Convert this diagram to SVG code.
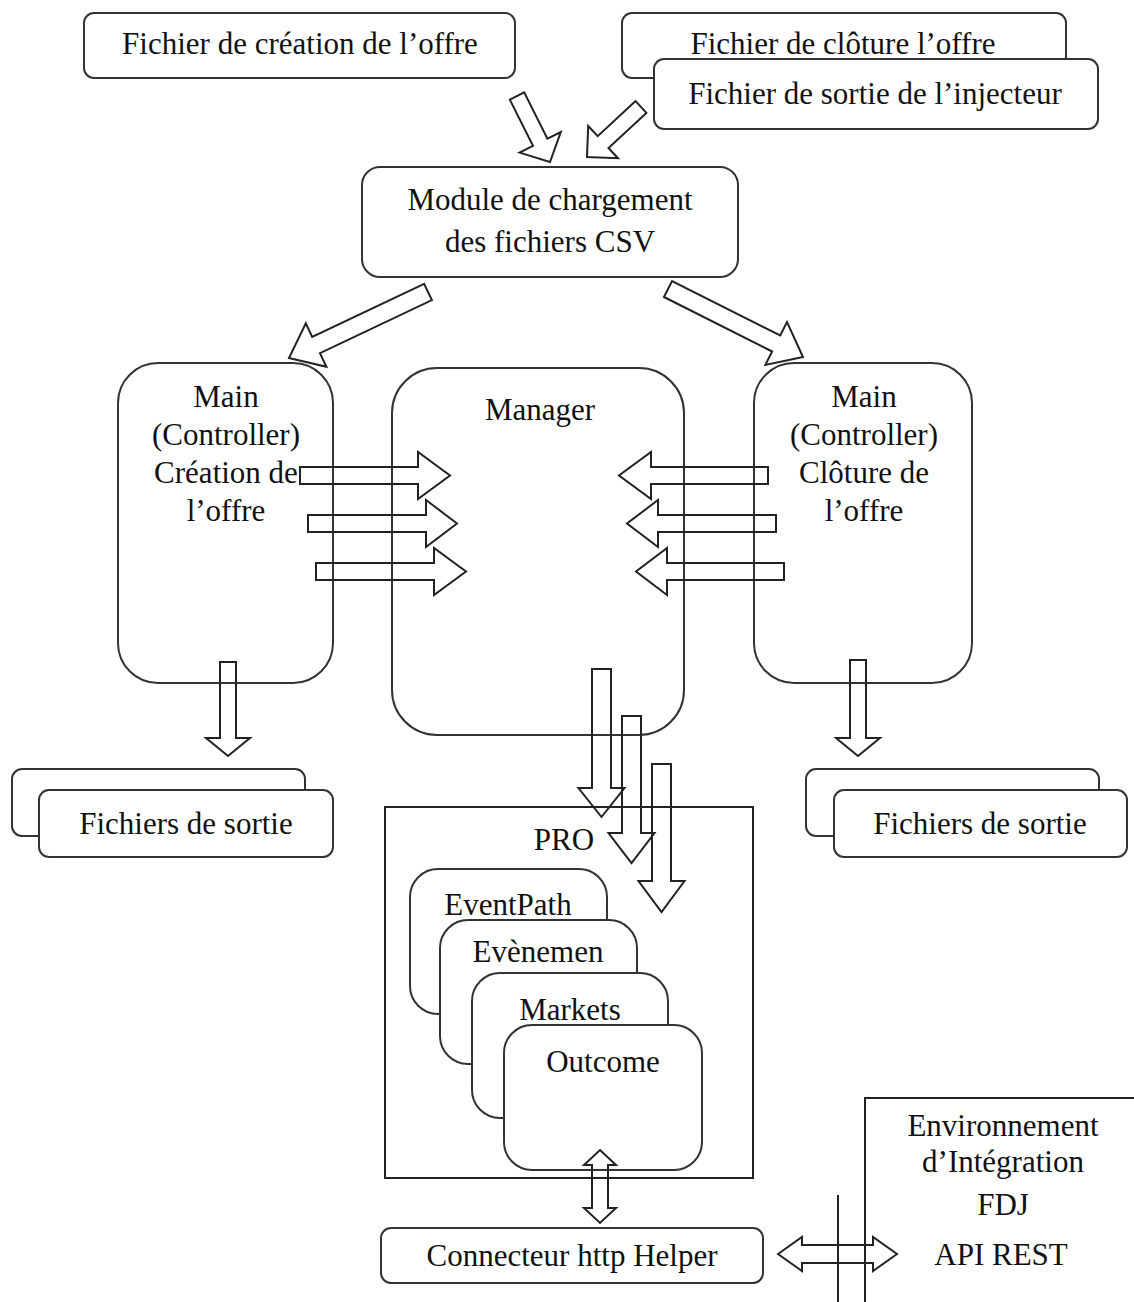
<svg xmlns="http://www.w3.org/2000/svg" width="1134" height="1302" viewBox="0 0 1134 1302">
<style>
.box{fill:#fff;stroke:#333;stroke-width:2}
.arr{fill:none;stroke:#222;stroke-width:2;stroke-linejoin:miter}
.t{font-family:"Liberation Serif","Times New Roman",serif;font-size:31px;fill:#111;text-anchor:middle}
</style>
<rect x="0" y="0" width="1134" height="1302" fill="#fff"/>

<g id="fichier-creation">
<rect class="box" x="84" y="13" width="431" height="65" rx="10"/>
<text class="t" x="300" y="54">Fichier de création de l’offre</text>
</g>
<g id="fichier-cloture">
<rect class="box" x="622" y="13" width="444" height="65" rx="10"/>
<text class="t" x="843" y="54">Fichier de clôture l’offre</text>
</g>
<g id="fichier-injecteur">
<rect class="box" x="654" y="59" width="444" height="70" rx="10"/>
<text class="t" x="875" y="104">Fichier de sortie de l’injecteur</text>
</g>
<g id="module-csv">
<rect class="box" x="362" y="167" width="376" height="110" rx="18"/>
<text class="t" x="550" y="210">Module de chargement</text>
<text class="t" x="550" y="252">des fichiers CSV</text>
</g>
<g id="main-creation">
<rect class="box" x="118" y="363" width="215" height="320" rx="40"/>
<text class="t" x="226" y="407">Main</text>
<text class="t" x="226" y="445">(Controller)</text>
<text class="t" x="226" y="483">Création de</text>
<text class="t" x="226" y="521">l’offre</text>
</g>
<g id="manager">
<rect class="box" x="392" y="368" width="292" height="367" rx="45"/>
<text class="t" x="540" y="420">Manager</text>
</g>
<g id="main-cloture">
<rect class="box" x="754" y="363" width="218" height="320" rx="40"/>
<text class="t" x="864" y="407">Main</text>
<text class="t" x="864" y="445">(Controller)</text>
<text class="t" x="864" y="483">Clôture de</text>
<text class="t" x="864" y="521">l’offre</text>
</g>
<g id="sortie-gauche">
<rect class="box" x="12" y="769" width="293" height="67" rx="10"/>
<rect class="box" x="39" y="790" width="294" height="67" rx="10"/>
<text class="t" x="186" y="834">Fichiers de sortie</text>
</g>
<g id="sortie-droite">
<rect class="box" x="806" y="769" width="293" height="67" rx="10"/>
<rect class="box" x="834" y="790" width="293" height="67" rx="10"/>
<text class="t" x="980" y="834">Fichiers de sortie</text>
</g>
<g id="pro">
<rect x="385" y="807" width="368" height="371" fill="#fff" stroke="#222" stroke-width="2"/>
<text class="t" x="564" y="850">PRO</text>
</g>
<g id="eventpath">
<rect class="box" x="410" y="869" width="197" height="145" rx="28"/>
<text class="t" x="508" y="915">EventPath</text>
</g>
<g id="evenement">
<rect class="box" x="440" y="920" width="197" height="144" rx="28"/>
<text class="t" x="538" y="962">Evènemen</text>
</g>
<g id="markets">
<rect class="box" x="472" y="973" width="196" height="145" rx="28"/>
<text class="t" x="570" y="1020">Markets</text>
</g>
<g id="outcome">
<rect class="box" x="504" y="1025" width="198" height="145" rx="28"/>
<text class="t" x="603" y="1072">Outcome</text>
</g>
<g id="connecteur">
<rect class="box" x="381" y="1228" width="382" height="55" rx="10"/>
<text class="t" x="572" y="1266">Connecteur http Helper</text>
</g>
<g id="environnement">
<path d="M865,1302 V1098 H1134" fill="none" stroke="#222" stroke-width="2"/>
<line x1="838" y1="1195" x2="838" y2="1302" stroke="#222" stroke-width="2"/>
<text class="t" x="1003" y="1136">Environnement</text>
<text class="t" x="1003" y="1172">d’Intégration</text>
<text class="t" x="1003" y="1215">FDJ</text>
<text class="t" x="1001" y="1265">API REST</text>
</g>

<g id="connectors">
<polygon class="arr" points="509.8,99.6 533,145.9 519.6,152.6 550,162 560.8,132 547.4,138.7 524.2,92.4"/>
<polygon class="arr" points="635.6,101.1 597.7,136.2 588.2,126 587,157 618,158.2 608.5,148 646.4,112.9"/>
<polygon class="arr" points="424.1,283.9 312.2,337 305.8,323.4 289,358 326.4,366.8 320,353.2 431.9,300.1"/>
<polygon class="arr" points="663.95,297 772.15,351.5 765.4,364.9 803,357 787,322.1 780.25,335.5 672.05,281"/>
<polygon class="arr" points="300,467 418,467 418,452 450,475.5 418,499 418,484 300,484"/>
<polygon class="arr" points="308,515 426,515 426,500 457,523.5 426,547 426,532 308,532"/>
<polygon class="arr" points="316,563 434,563 434,548 466,571.5 434,595 434,580 316,580"/>
<polygon class="arr" points="768,467 651,467 651,452 619,475.5 651,499 651,484 768,484"/>
<polygon class="arr" points="776,515 658,515 658,500 627,523.5 658,547 658,532 776,532"/>
<polygon class="arr" points="784,563 667,563 667,548 636,571.5 667,595 667,580 784,580"/>
<polygon class="arr" points="220,662 236,662 236,738 250,738 228,756 206,738 220,738"/>
<polygon class="arr" points="850,660 866,660 866,738 880,738 858,756 836,738 850,738"/>
<polygon class="arr" points="592,669 611,669 611,788 624.5,788 601.5,817 578.5,788 592,788"/>
<polygon class="arr" points="622,716 641,716 641,833 654.5,833 631.5,863 608.5,833 622,833"/>
<polygon class="arr" points="652,764 671,764 671,881 684.5,881 661.5,912 638.5,881 652,881"/>
<polygon class="arr" points="600,1150 616,1165 608,1165 608,1208 616,1208 600,1223 584,1208 592,1208 592,1165 584,1165"/>
<polygon class="arr" points="778,1254 802,1237 802,1245 873,1245 873,1237 897,1254 873,1271 873,1263 802,1263 802,1271"/>
</g>
</svg>
